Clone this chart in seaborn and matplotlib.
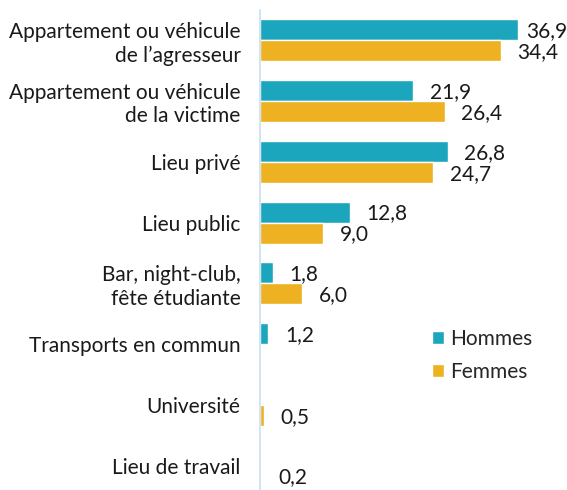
import pandas as pd
import seaborn as sns
import matplotlib.pyplot as plt

lieux = [
    "Appartement ou véhicule\nde l\u2019agresseur",
    "Appartement ou véhicule\nde la victime",
    "Lieu privé",
    "Lieu public",
    "Bar, night-club,\nfête étudiante",
    "Transports en commun",
    "Université",
    "Lieu de travail",
]
hommes = [36.9, 21.9, 26.8, 12.8, 1.8, 1.2, 0.0, 0.0]
femmes = [34.4, 26.4, 24.7, 9.0, 6.0, 0.0, 0.5, 0.2]
series = ["Hommes", "Femmes"]
couleurs = ["#1ca6bd", "#edb121"]

df = pd.DataFrame({
    "Lieu": lieux * 2,
    "Valeur": hommes + femmes,
    "Sexe": ["Hommes"] * len(lieux) + ["Femmes"] * len(lieux),
})

sns.set_style("white")
plt.rcParams["font.family"] = ["Lato", "DejaVu Sans"]
fs = 15

fig = plt.figure(figsize=(5.67, 4.90), dpi=100)
ax = fig.add_axes([260 / 567, 0.0, 1 - 260 / 567, 1 - 10 / 490])

sns.barplot(data=df, x="Valeur", y="Lieu", hue="Sexe", hue_order=series,
            palette=couleurs, width=0.69, orient="h", ax=ax, saturation=1)

# value labels, skip the zero bars
for cont, vals in zip(ax.containers, [hommes, femmes]):
    for bar, v in zip(cont, vals):
        if v <= 0:
            continue
        pad = 6 if v > 36 else 12
        ax.annotate(("%.1f" % v).replace(".", ","),
                    (bar.get_width(), bar.get_y() + bar.get_height() / 2),
                    xytext=(pad, -1), textcoords="offset points",
                    va="center", ha="left", fontsize=fs, color="#1a1a1a")

ax.set_xlim(0, (567 - 260) / 7.0)
ax.set_ylim(7.4, -0.5)
ax.set_xlabel("")
ax.set_ylabel("")
ax.set_xticks([])
ax.tick_params(axis="y", length=0, pad=14, labelsize=fs, labelcolor="#1a1a1a")
for lab in ax.get_yticklabels():
    lab.set_horizontalalignment("right")
    lab.set_multialignment("right")
for s in ["top", "right", "bottom"]:
    ax.spines[s].set_visible(False)
ax.spines["left"].set_color("#c9dff2")
ax.spines["left"].set_linewidth(1.2)

leg = ax.legend(loc="center left", bbox_to_anchor=(432 / 567, 1 - 355.5 / 490),
                bbox_transform=fig.transFigure, frameon=False, borderpad=0,
                borderaxespad=0, fontsize=fs, handlelength=0.58, handleheight=0.58,
                labelspacing=0.6, handletextpad=0.3)

fig.savefig("out.png", dpi=100)
